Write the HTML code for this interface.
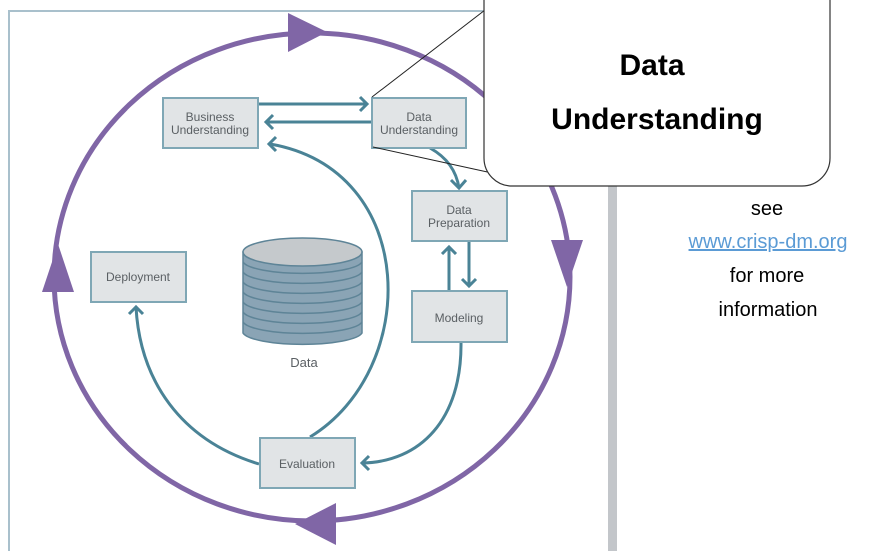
<!DOCTYPE html>
<html><head><style>
html,body{margin:0;padding:0;background:#fff;width:881px;height:551px;overflow:hidden}
</style></head><body>
<svg width="881" height="551" xmlns="http://www.w3.org/2000/svg" font-family="Liberation Sans, sans-serif">
<rect x="9" y="11" width="604" height="560" fill="none" stroke="#a9c0cc" stroke-width="2"/>
<rect x="608" y="11" width="9" height="545" fill="#c3c6ca"/>
<!-- purple cycle -->
<ellipse cx="312" cy="277" rx="258" ry="244" fill="none" stroke="#8066a6" stroke-width="5"/>
<polygon points="288,13 327,32 288,52" fill="#8066a6"/>
<polygon points="551,240 583,240 567,287" fill="#8066a6"/>
<polygon points="42,292 74,292 58,244" fill="#8066a6"/>
<polygon points="336,503 336,545 295,524" fill="#8066a6"/>
<!-- teal arrows -->
<g fill="none" stroke="#4a8396" stroke-width="3">
<path d="M258,104 H366"/><path d="M360,97 L367,104 L360,111"/>
<path d="M371,122 H266"/><path d="M273,115 L266,122 L273,129"/>
<path d="M430,148 Q455,162 459,188"/><path d="M451,180 L459,188 L466,180"/>
<path d="M469,241 V286"/><path d="M462,279 L469,286 L476,279"/>
<path d="M449,290 V247"/><path d="M442,254 L449,247 L456,254"/>
<path d="M461,342 C462,420 420,462 362,463"/><path d="M369,456 L362,463 L369,470"/>
<path d="M310,437 C420,370 420,170 270,144"/><path d="M276,137 L269,144 L276,151"/>
<path d="M259,464 C180,440 140,380 136,307"/><path d="M129,314 L136,307 L143,314"/>
</g>
<!-- boxes -->
<g fill="#e1e4e6" stroke="#7fa7b5" stroke-width="2">
<rect x="163" y="98" width="95" height="50"/>
<rect x="372" y="98" width="94" height="50"/>
<rect x="412" y="191" width="95" height="50"/>
<rect x="412" y="291" width="95" height="51"/>
<rect x="91" y="252" width="95" height="50"/>
<rect x="260" y="438" width="95" height="50"/>
</g>
<g fill="#5a5f63" font-size="12" text-anchor="middle">
<text x="210" y="121">Business</text><text x="210" y="134">Understanding</text>
<text x="419" y="121">Data</text><text x="419" y="134">Understanding</text>
<text x="459" y="214">Data</text><text x="459" y="227">Preparation</text>
<text x="459" y="322">Modeling</text>
<text x="138" y="281">Deployment</text>
<text x="307" y="468">Evaluation</text>
<text x="304" y="367" font-size="13">Data</text>
</g>
<!-- cylinder -->
<path d="M243,252 V333 A60,13 0 0 0 362,333 V252 Z" fill="#8aa4b5" stroke="#5e8497" stroke-width="1.5"/>
<g fill="none" stroke="#5e8497" stroke-width="1.5">
<path d="M243,262 A60,13 0 0 0 362,262"/><path d="M243,272 A60,13 0 0 0 362,272"/>
<path d="M243,282 A60,13 0 0 0 362,282"/><path d="M243,292 A60,13 0 0 0 362,292"/>
<path d="M243,302 A60,13 0 0 0 362,302"/><path d="M243,312 A60,13 0 0 0 362,312"/>
<path d="M243,322 A60,13 0 0 0 362,322"/>
</g>
<ellipse cx="302.5" cy="252" rx="59.5" ry="14" fill="#c5c9cc" stroke="#5e8497" stroke-width="1.5"/>
<!-- callout -->
<line x1="372" y1="97" x2="498" y2="0" stroke="#222" stroke-width="1"/>
<line x1="373" y1="147" x2="492" y2="173" stroke="#222" stroke-width="1"/>
<rect x="484" y="-30" width="346" height="216" rx="28" fill="#fff" stroke="#333" stroke-width="1.2"/>
<g font-weight="bold" font-size="30" text-anchor="middle" fill="#000">
<text x="652" y="75">Data</text><text x="657" y="129">Understanding</text>
</g>
<g font-size="20" text-anchor="middle" fill="#000">
<text x="767" y="215">see</text>
<text x="768" y="248" fill="#5b9bd5" text-decoration="underline">www.crisp-dm.org</text>
<text x="767" y="282">for more</text>
<text x="768" y="316">information</text>
</g>
</svg>
</body></html>
